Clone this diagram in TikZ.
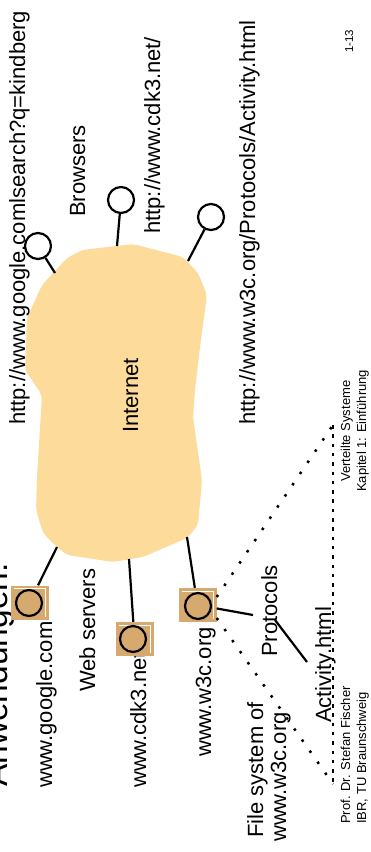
\documentclass[tikz,border=0pt]{standalone}
\usepackage{fontspec}
\setmainfont{Liberation Sans}
\usepackage{tikz}
\usetikzlibrary{positioning,calc}
\definecolor{cloudfill}{RGB}{253,219,155}
\definecolor{boxfill}{RGB}{214,169,110}

\begin{document}
\begin{tikzpicture}[x=1pt,y=-1pt,
		vtext/.style={rotate=90, anchor=base west, inner sep=0pt, font=\fontsize{22}{26}\selectfont},
		small/.style={vtext, font=\fontsize{13}{15}\selectfont},
		host/.style={circle, draw, line width=2.2pt, minimum size=26pt, inner sep=0pt},
		server/.style={rectangle, fill=boxfill, minimum width=38pt, minimum height=34pt, inner sep=0pt,
			path picture={\draw[white, line width=0.7pt]
				([shift={(3pt,-3pt)}]path picture bounding box.north west) --
				([shift={(-3pt,-3pt)}]path picture bounding box.north east) --
				([shift={(-3pt,3pt)}]path picture bounding box.south east);}},
		link/.style={line width=2.2pt},
		dots/.style={line width=2.5pt, dash pattern=on 2.5pt off 11pt},
		vdots/.style={line width=2.2pt, dash pattern=on 3.5pt off 5.8pt}]
			\clip (0,0) rectangle (370,852);
			\useasboundingbox (0,0) rectangle (370,852);
			
			% the cloud
			\fill[cloudfill, rounded corners=5pt] (42,285) -- (67,258) -- (82,250) -- (133,244) -- (183,257)
				-- (198,273) -- (207,295) -- (200,347) -- (195,390) -- (193,417) -- (202,480) -- (198,525)
				-- (187,538) -- (143,557) -- (113,562) -- (67,555) -- (57,547) -- (43,533) -- (36,510)
				-- (37,477) -- (42,395) -- (25,370) -- (27,318) -- cycle;
			\node[vtext] (net) at (138,433) {Internet};
			
			% headings and urls
			\node[vtext, font=\fontsize{33.5}{38}\selectfont] (title) at (8,787) {Anwendungen:};
			\node[vtext] (url1) at (25,425) {http://www.google.comlsearch?q=kindberg};
			\node[vtext] (url2) at (160,234) {http://www.cdk3.net/};
			\node[vtext] (url3) at (255,425) {http://www.w3c.org/Protocols/Activity.html};
			\node[vtext] (browsers) at (85,217) {Browsers};
			\node[vtext] (servers) at (95,692) {Web servers};
			\node[vtext] (google) at (52,788) {www.google.com};
			\node[vtext] (cdk) at (146,788) {www.cdk3.net};
			\node[vtext] (w3c) at (211,757) {www.w3c.org};
			\node[vtext] (proto) at (277,657) {Protocols};
			\node[vtext] (fs1) at (263,838) {File system of};
			\node[vtext] (fs2) at (286,842) {www.w3c.org};
			\node[vtext] (act) at (331,723) {Activity.html};
			
			% footer
			\node[small] (prof) at (350,824) {Prof. Dr. Stefan Fischer};
			\node[small] (ibr) at (366,824) {IBR, TU Braunschweig};
			\node[small] (vs) at (350,482) {Verteilte Systeme};
			\node[small] (kap) at (366,492) {Kapitel 1: Einführung};
			\node[small, font=\fontsize{11.5}{13}\selectfont] (page) at (353,53) {1-13};
			
			% browsers
			\node[host] (b1) at (38,246) {};
			\node[host] (b2) at (121,200) {};
			\node[host] (b3) at (211,217) {};
			\coordinate (c1) at (55,273);
			\coordinate (c2) at (117,246);
			\coordinate (c3) at (188,261);
			\draw[link] (b1) -- (c1);
			\draw[link] (b2) -- (c2);
			\draw[link] (b3) -- (c3);
			
			% web servers
			\node[server] (s1) at (29.5,602.5) {};
			\node[server] (s2) at (134.5,639) {};
			\node[server] (s3) at (197.5,605) {};
			\node[host] (h1) at (29,603) {};
			\node[host] (h2) at (133,639) {};
			\node[host] (h3) at (198,606) {};
			\coordinate (c4) at (57,547);
			\coordinate (c5) at (129,559);
			\coordinate (c6) at (187,537);
			\draw[link] (c4) -- (s1);
			\draw[link] (c5) -- (s2);
			\draw[link] (c6) -- (s3);
			
			% protocols and file system
			\coordinate (p1) at (253,615);
			\coordinate (p2) at (275,620);
			\coordinate (p3) at (307,662);
			\draw[link] (s3) -- (p1);
			\draw[link] (p2) -- (p3);
			\coordinate (f1) at (333,425);
			\coordinate (f2) at (333,784);
			\draw[dots] ([yshift=8pt]s3.east) -- (f1);
			\draw[dots] ([yshift=-13pt]s3.east) -- (f2);
			\draw[vdots] (f1) -- (f2);
		\end{tikzpicture}
\end{document}
